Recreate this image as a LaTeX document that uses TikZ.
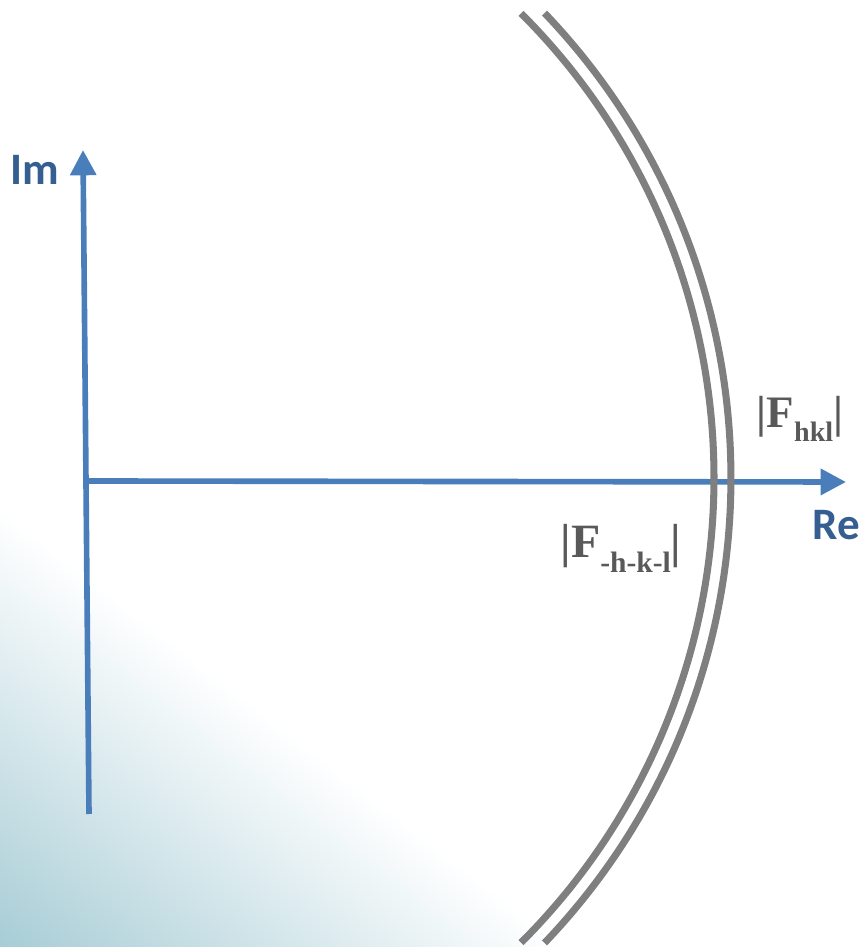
\documentclass[tikz,border=0pt]{standalone}
\usepackage{fontspec}
\setmainfont{Liberation Serif}
\newfontfamily\labelfont{Carlito}
\usetikzlibrary{arrows.meta}
\definecolor{AxBlue}{HTML}{4A7EBB}
\definecolor{AxText}{HTML}{365F91}
\definecolor{RingGray}{HTML}{7F7F7F}
\definecolor{FGray}{HTML}{595959}
\definecolor{BgTeal}{HTML}{A8CDD6}
\tikzset{
  axisline/.style={-{Triangle[length=18pt,width=18pt]},AxBlue,line width=4pt},
  ring/.style={RingGray,line width=5pt},
  axlabel/.style={text=AxText,font=\labelfont\bfseries\fontsize{32}{38}\selectfont,
                  inner sep=0pt,anchor=base},
  amplabel/.style={text=FGray,font=\bfseries\fontsize{32}{38}\selectfont,
                   inner sep=0pt,anchor=base},
}
\newcommand{\subidx}[1]{\raisebox{-0.3em}{\fontsize{20}{24}\selectfont #1}}

\begin{document}
\begin{tikzpicture}[x=0.025cm,y=0.025cm]
  \useasboundingbox (0,0) rectangle (862,947);
  % background wedge, lower left
  \foreach \i in {0,...,59}{
    \pgfmathsetmacro{\ta}{\i/60}
    \pgfmathsetmacro{\tb}{min((\i+1.3)/60,1)}
    \pgfmathsetmacro{\mix}{100*(1-\ta)}
    \fill[BgTeal!\mix!white] (0,434*\ta) -- (560*\ta,0) -- (560*\tb,0) -- (0,434*\tb) -- cycle;
  }

  % axes
  \coordinate (imbot) at (89,133);
  \coordinate (imtip) at (83,797);
  \coordinate (orig) at (86,466);
  \coordinate (retip) at (846,465);
  \draw[axisline] (imbot) -- (imtip);
  \draw[axisline] (orig) -- (retip);
  \node[axlabel] (im) at (35,762) {Im};
  \node[axlabel] (re) at (836,407) {Re};

  % the two amplitude circles
  \coordinate (ctr) at (58,469);
  \draw[ring] (ctr) ++(-45.1:656) arc[start angle=-45.1,end angle=45.1,radius=656];
  \draw[ring] (ctr) ++(-43.7:673) arc[start angle=-43.7,end angle=43.7,radius=673];
  \node[amplabel] (fplus) at (800,519) {|F\subidx{hkl}|};
  \node[amplabel,font=\bfseries\fontsize{34}{40}\selectfont] (fminus) at (621,389)
    {|F\raisebox{-0.3em}{\fontsize{21}{25}\selectfont -h-k-l}|};
\end{tikzpicture}
\end{document}
